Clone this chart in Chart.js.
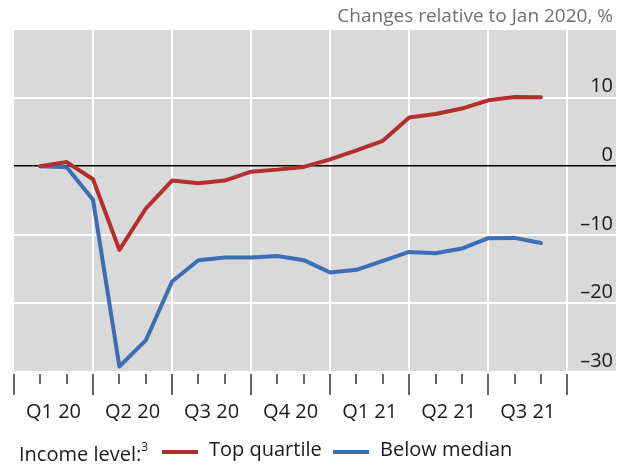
<!DOCTYPE html>
<html>
<head>
<meta charset="utf-8">
<script src="https://cdn.jsdelivr.net/npm/chart.js@4/dist/chart.umd.min.js"></script>
<style>
    body { margin: 0; background: #fff; font-family: "Open Sans", sans-serif; }
    #wrap { position: relative; width: 625px; height: 466px; overflow: hidden; }
    #incomeChart { position: absolute; left: 0; top: 0; }
    .txt { position: absolute; white-space: nowrap; line-height: 20px; }
    #title { right: 12px; top: 5px; font-size: 19px; color: #707070; }
    .leg { top: 439px; font-size: 20px; color: #1a1a1a; }
    .leg sup { font-size: 12px; position: relative; top: -2px; }
    .swatch { position: absolute; top: 450px; width: 36px; height: 4px; }
</style>
</head>
<body>
<div id="wrap">
    <canvas id="incomeChart" width="625" height="466"></canvas>
    <div id="title" class="txt">Changes relative to Jan 2020, %</div>
    <div class="txt leg" style="left:19px">Income level:<sup>3</sup></div>
    <div class="swatch" style="left:162px;background:#b22f2c"></div>
    <div class="txt leg" style="left:209px">Top quartile</div>
    <div class="swatch" style="left:333px;background:#3b6eb4"></div>
    <div class="txt leg" style="left:380px">Below median</div>
</div>
<script>
// months Jan 2020 .. Aug 2021, plotted at month-end ticks
const months = ['Jan 20', 'Feb 20', 'Mar 20', 'Apr 20', 'May 20', 'Jun 20', 'Jul 20', 'Aug 20', 'Sep 20', 'Oct 20',
    'Nov 20', 'Dec 20', 'Jan 21', 'Feb 21', 'Mar 21', 'Apr 21', 'May 21', 'Jun 21', 'Jul 21', 'Aug 21'];
const topQuartile = [0, 0.6, -1.9, -12.2, -6.2, -2.1, -2.5, -2.1, -0.8, -0.5,
    -0.1, 1.0, 2.3, 3.7, 7.1, 7.6, 8.4, 9.6, 10.1, 10.05];
const belowMedian = [0, -0.15, -4.9, -29.2, -25.4, -16.8, -13.7, -13.3, -13.3, -13.1,
    -13.7, -15.5, -15.1, -13.8, -12.5, -12.7, -12.0, -10.5, -10.45, -11.2];
const quarterLabels = ['Q1 20', 'Q2 20', 'Q3 20', 'Q4 20', 'Q1 21', 'Q2 21', 'Q3 21'];
const yTicks = [-30, -20, -10, 0, 10];

function toPoints(values) {
    return values.map((v, i) => ({x: i + 1, y: v}));
}

const plotBackground = {
    id: 'plotBackground',
    beforeDraw(chart) {
        const {ctx, chartArea: a} = chart;
        ctx.save();
        ctx.fillStyle = '#d9d9d9';
        ctx.fillRect(a.left, a.top, a.right - a.left, a.bottom - a.top);
        ctx.restore();
    }
};

function isHalf(v) {
    return Math.abs(v % 1 - 0.5) < 0.01;
}

function createChart() {
    const ctx = document.getElementById('incomeChart').getContext('2d');
    new Chart(ctx, {
        type: 'line',
        data: {
            datasets: [
                {label: 'Top quartile', data: toPoints(topQuartile), borderColor: '#b22f2c'},
                {label: 'Below median', data: toPoints(belowMedian), borderColor: '#3b6eb4'}
            ]
        },
        options: {
            responsive: false,
            animation: false,
            layout: {padding: {top: 29, left: 14, right: 9, bottom: 38}},
            elements: {
                line: {borderWidth: 4, tension: 0, borderCapStyle: 'round', borderJoinStyle: 'round'},
                point: {radius: 0}
            },
            plugins: {legend: {display: false}, tooltip: {enabled: false}},
            scales: {
                x: {
                    type: 'linear',
                    min: 0,
                    max: 22.85,
                    border: {display: false},
                    afterBuildTicks: scale => {
                        const vals = [];
                        for (let i = 0; i <= 21; i++) vals.push(i);
                        quarterLabels.forEach((_, q) => vals.push(q * 3 + 1.5));
                        vals.sort((a, b) => a - b);
                        scale.ticks = vals.map(v => ({value: v}));
                    },
                    grid: {
                        tickLength: 24,
                        color: c => (c.tick && c.tick.value % 3 === 0 && c.tick.value > 0) ? '#ffffff' : 'rgba(0,0,0,0)',
                        lineWidth: 2,
                        tickColor: c => (c.tick && isHalf(c.tick.value)) ? 'rgba(0,0,0,0)' : '#333333',
                        tickWidth: 1.5,
                        tickBorderDash: c => (c.tick && c.tick.value % 3 === 0) ? [0, 2, 21, 60] : [0, 2, 10, 60]
                    },
                    ticks: {
                        autoSkip: false,
                        maxRotation: 0,
                        padding: 4,
                        color: '#1a1a1a',
                        font: {family: 'Open Sans', size: 20},
                        callback: v => isHalf(v) ? quarterLabels[Math.floor(v / 3)] : ''
                    }
                },
                y: {
                    position: 'right',
                    min: -30,
                    max: 20,
                    border: {display: false},
                    afterBuildTicks: scale => {
                        scale.ticks = yTicks.concat([20]).map(v => ({value: v}));
                    },
                    grid: {
                        drawTicks: false,
                        color: c => c.tick && c.tick.value === 0 ? '#000000' : '#ffffff',
                        lineWidth: c => c.tick && c.tick.value === 0 ? 1.5 : 2
                    },
                    ticks: {
                        mirror: true,
                        padding: -3,
                        labelOffset: -11,
                        color: '#1a1a1a',
                        font: {family: 'Open Sans', size: 20},
                        callback: v => yTicks.includes(v) ? String(v).replace('-', '\u2013') : ''
                    }
                }
            }
        },
        plugins: [plotBackground]
    });
}

document.addEventListener('DOMContentLoaded', createChart);
</script>
</body>
</html>
